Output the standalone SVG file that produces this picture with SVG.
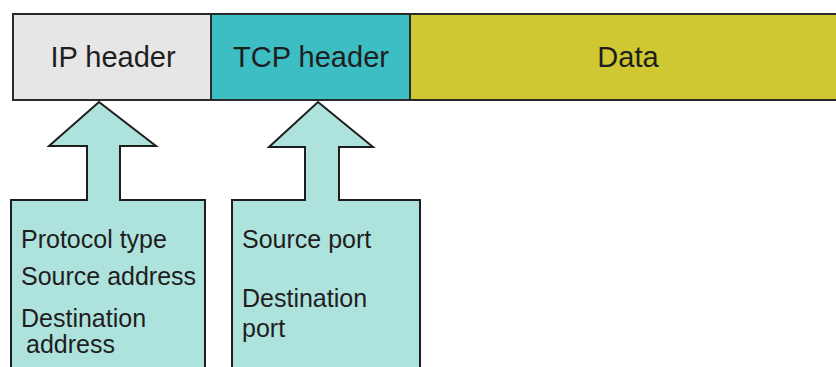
<svg xmlns="http://www.w3.org/2000/svg" width="836" height="367" viewBox="0 0 836 367">
  <style>
    .field { stroke: #2a2a2a; stroke-width: 2; }
    .callout { fill: #aee3dd; stroke: #1e1e1e; stroke-width: 2; stroke-linejoin: miter; }
    .hdr { font-family: "Liberation Sans", Arial, sans-serif; font-size: 29px; fill: #1e1e1e; text-anchor: middle; }
    .item { font-family: "Liberation Sans", Arial, sans-serif; font-size: 25px; fill: #1e1e1e; }
  </style>
  <rect width="836" height="367" fill="#ffffff"/>

  <!-- packet fields -->
  <g id="ip-header">
    <rect class="field" x="13" y="14" width="198" height="86" fill="#e6e6e6"/>
    <text class="hdr" x="113" y="67">IP header</text>
  </g>
  <g id="tcp-header">
    <rect class="field" x="211" y="14" width="199" height="86" fill="#3dbdc4"/>
    <text class="hdr" x="311" y="67">TCP header</text>
  </g>
  <g id="data">
    <rect class="field" x="410" y="14" width="440" height="86" fill="#cfc832"/>
    <text class="hdr" x="628" y="67">Data</text>
  </g>

  <!-- callout arrows pointing up at the header fields -->
  <g id="connectors">
    <path class="callout" d="M11,370 L11,200 L87,200 L87,146 L49,146 L99,102 L156,146 L120,146 L120,200 L205,200 L205,370"/>
    <path class="callout" d="M232,370 L232,200 L305,200 L305,147 L269,147 L318,102 L373,147 L339,147 L339,200 L420,200 L420,370"/>
  </g>

  <g id="ip-fields">
    <text class="item" x="21" y="248">Protocol type</text>
    <text class="item" x="21" y="285">Source address</text>
    <text class="item" x="21" y="327">Destination</text>
    <text class="item" x="26" y="353">address</text>
  </g>
  <g id="tcp-fields">
    <text class="item" x="242" y="248">Source port</text>
    <text class="item" x="242" y="307">Destination</text>
    <text class="item" x="242" y="337">port</text>
  </g>
</svg>
